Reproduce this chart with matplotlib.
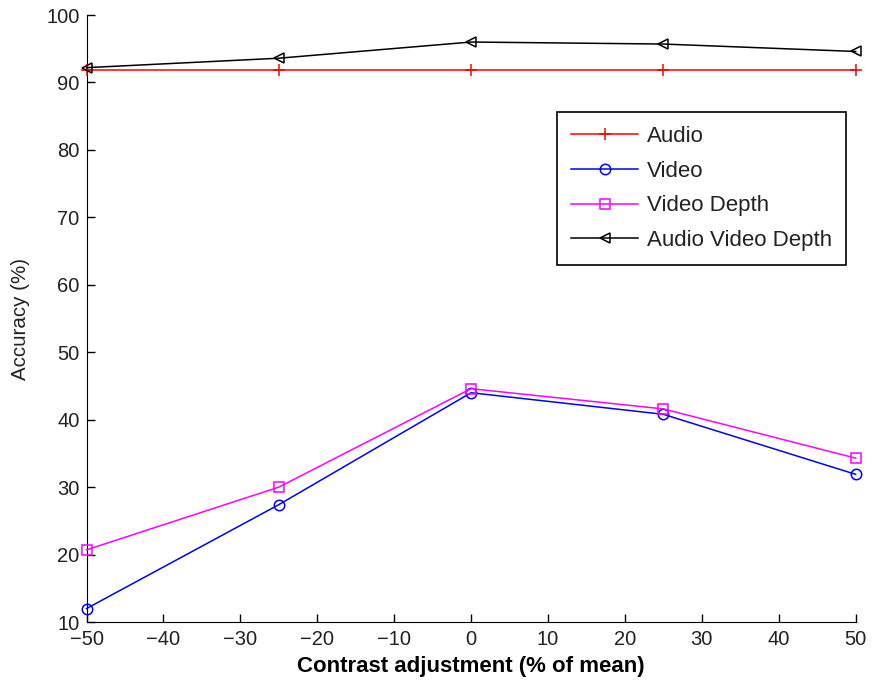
import matplotlib.pyplot as plt
import numpy as np

plt.rcParams['font.family'] = ['Liberation Sans', 'DejaVu Sans']

contrast = [-50, -25, 0, 25, 50]
audio = [91.8, 91.8, 91.8, 91.8, 91.8]
video = [12.0, 27.4, 44.0, 40.8, 31.9]
video_depth = [20.7, 30.0, 44.6, 41.6, 34.3]
audio_video_depth = [92.2, 93.6, 96.0, 95.7, 94.6]

fig = plt.figure(figsize=(8.75, 6.84), dpi=100)
ax = fig.add_axes([0.0989, 0.0906, 0.879, 0.8874])

style = dict(lw=1.1, mew=1.1, clip_on=False, zorder=3)
ax.plot(contrast, audio, "-", marker="+", color="#ff0000", ms=9, label="Audio", **style)
ax.plot(contrast, video, "-", marker="o", color="#0000ff", ms=7.5, mfc="none", label="Video", **style)
ax.plot(contrast, video_depth, "-", marker="s", color="#ff00ff", ms=7.5, mfc="none", label="Video Depth", **style)
ax.plot(contrast, audio_video_depth, "-", marker="<", color="black", ms=7.5, mfc="none", label="Audio Video Depth", **style)

ax.set_xlim(-50, 50)
ax.set_ylim(10, 100)
ax.set_xticks(np.arange(-50, 51, 10))
ax.set_yticks(np.arange(10, 101, 10))
ax.set_xticklabels([str(t).replace("-", "\u2212") for t in range(-50, 51, 10)])
ax.tick_params(direction="in", length=6, labelsize=14.5, width=1, labelcolor="#222222")
ax.tick_params(axis="x", pad=6)
ax.tick_params(axis="y", pad=5)
ax.spines["top"].set_visible(False)
ax.spines["right"].set_visible(False)

ax.set_xlabel("Contrast adjustment (% of mean)", fontsize=16, fontweight="bold", labelpad=5)
ax.set_ylabel("Accuracy (%)", fontsize=14.8, labelpad=12, color="#222222")

leg = ax.legend(loc="upper right", bbox_to_anchor=(0.987, 0.840), borderaxespad=0,
                fontsize=16, fancybox=False, framealpha=1, edgecolor="black",
                handlelength=3.0, handletextpad=0.4, borderpad=0.62, labelspacing=0.62)
leg.get_frame().set_linewidth(1.2)
for t in leg.get_texts():
    t.set_color("#222222")

plt.savefig("out.png", dpi=100)
